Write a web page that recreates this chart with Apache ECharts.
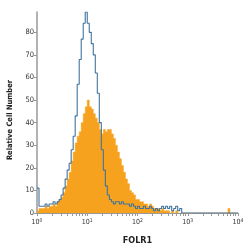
<!DOCTYPE html>
<html>
<head>
<meta charset="utf-8">
<script src="https://cdn.jsdelivr.net/npm/echarts@6/dist/echarts.min.js"></script>
<style>
  html, body { margin: 0; padding: 0; background: #fff; }
  #chart { width: 250px; height: 250px; }
</style>
</head>
<body>
<div id="chart"></div>
<script>
// histogram bins, width 0.04 decade, starting at 10^0
var binWidth = 0.04;
var decades = [0, 1, 2, 3, 4];
var yTicks = [0, 10, 20, 30, 40, 50, 60, 70, 80];

// FOLR1 stained (filled orange)
var stained = [1,2,2,2,3,2,3,3,4,3,5,6,7,9,12,15,18,23,27,31,
               34,36,40,44,47,50,47,46,44,42,40,37,35,37,36,37,37,35,33,30,
               27,24,21,18,15,13,10,9,8,6,6,5,5,4,4,3,4,3,2,2,
               2,1,2,1,1,1,0,1,0,1,0,0,0,0,0,0,0,0,0,0,
               0,0,0,0,0,0,0,0,0,0,0,0,0,0,0,2,0,0,0,0];

// isotype control (blue outline)
var isotype = [11,3,3,3,4,3,4,4,5,4,5,6,8,11,15,19,22,28,34,43,
               57,68,77,84,89,84,80,75,70,62,53,40,28,19,12,8,6,5,4,5,
               5,4,5,4,4,4,3,4,3,2,3,2,2,3,2,2,3,2,1,2,
               1,2,3,2,3,2,3,1,2,3,1,2,0,0,0,0,0,0,0,0,
               0,0,0,0,0,0,0,0,0,0,0,0,0,0,0,0,0,0,0,0];

function toSteps(counts) {
  var pts = counts.map(function (c, i) { return [i * binWidth, c]; });
  pts.push([counts.length * binWidth, 0]);
  return pts;
}

// log ticks at 1..9 x 10^d
var logTicks = [];
for (var d = 0; d < 4; d++) {
  for (var k = 1; k < 10; k++) logTicks.push(d + Math.log10(k));
}
logTicks.push(4);

var font = 'DejaVu Sans Condensed';
var chart = echarts.init(document.getElementById('chart'));
chart.setOption({
  animation: false,
  grid: { left: 37, right: 12, top: 12, bottom: 31 },
  graphic: [{
    type: 'text', x: 10, y: 120, rotation: Math.PI / 2,
    style: {
      text: 'Relative Cell Number', fontFamily: font, fontSize: 7.5, fontWeight: 'bold',
      fill: '#222', align: 'center', verticalAlign: 'middle'
    }
  }],
  xAxis: {
    type: 'value', min: 0, max: 4, interval: 1,
    name: 'FOLR1', nameLocation: 'middle', nameGap: 23,
    nameTextStyle: { fontFamily: font, fontSize: 9, fontWeight: 'bold', color: '#222' },
    axisLine: { lineStyle: { color: '#999', width: 1.2 } },
    axisTick: { length: 3, customValues: logTicks, lineStyle: { color: '#999' } },
    splitLine: { show: false },
    axisLabel: {
      margin: 5,
      customValues: decades,
      formatter: function (v) { return '{b|10}{s|' + v + '}'; },
      rich: {
        b: { fontFamily: font, fontSize: 7, color: '#333' },
        s: { fontFamily: font, fontSize: 5, color: '#333', verticalAlign: 'top', padding: [0, 0, 4, 0] }
      }
    }
  },
  yAxis: {
    type: 'value', min: 0, max: 89,
    axisLine: { show: true, lineStyle: { color: '#999', width: 1.5 } },
    axisTick: { show: true, length: 3, customValues: yTicks, lineStyle: { color: '#999' } },
    splitLine: { show: false },
    axisLabel: { customValues: yTicks, margin: 3, fontFamily: font, fontSize: 7.5, color: '#333' }
  },
  series: [{
    type: 'line', step: 'end', symbol: 'none',
    data: toSteps(stained),
    lineStyle: { color: '#F6A21E', width: 0.5 },
    areaStyle: { color: '#F6A21E', opacity: 1 }
  }, {
    type: 'line', step: 'end', symbol: 'none',
    data: toSteps(isotype),
    lineStyle: { color: '#3f74a0', width: 1.1 }
  }]
});
</script>
</body>
</html>
